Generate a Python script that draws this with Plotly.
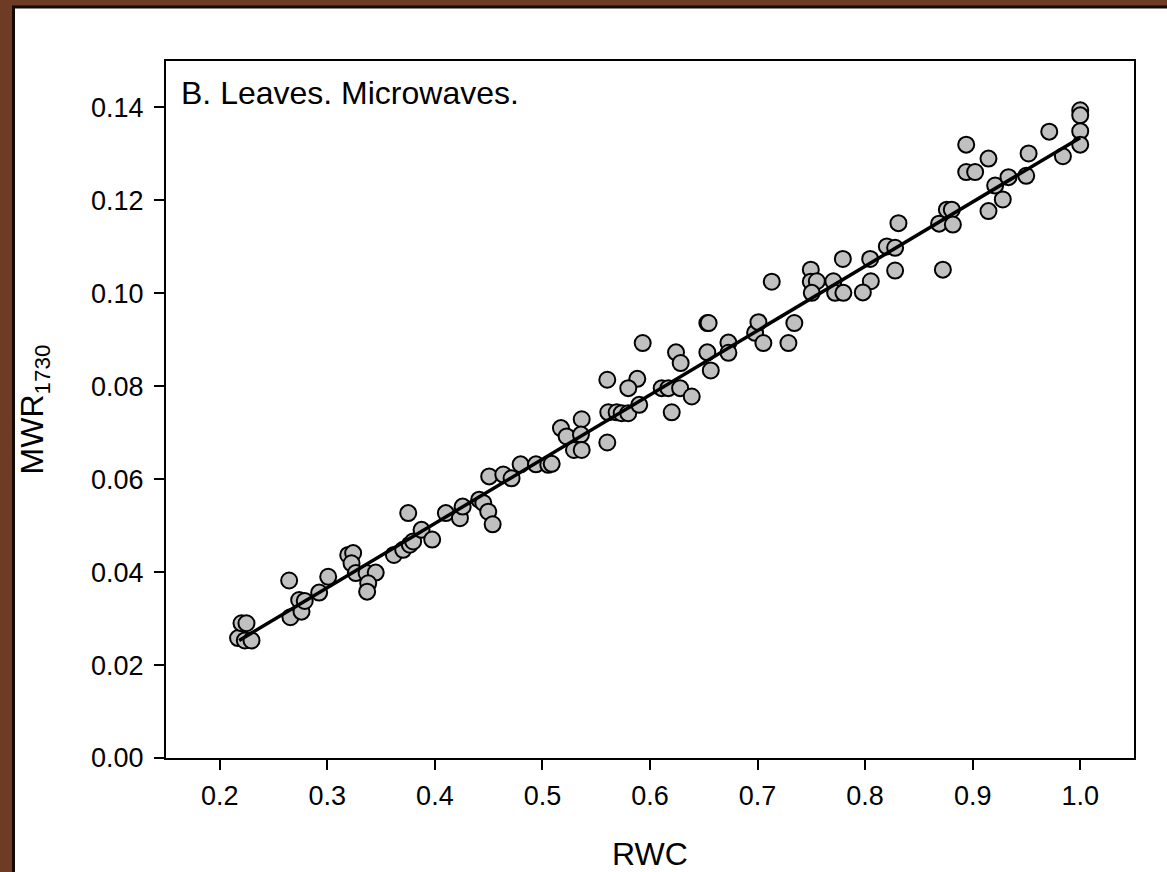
import plotly.graph_objects as go

# Data (RWC vs MWR1730, leaves, microwaves)
rwc = [0.217, 0.2202, 0.2248, 0.2233, 0.2295, 0.2645, 0.2657, 0.2738, 0.2760, 0.2790,
       0.2924, 0.3008, 0.3194, 0.3240, 0.3225, 0.3265, 0.3365, 0.3450, 0.3380, 0.3370,
       0.3619, 0.3705, 0.3767, 0.3798, 0.3876, 0.3975, 0.3752, 0.4102, 0.4233, 0.4258,
       0.4412, 0.4450, 0.4496, 0.4537, 0.4505, 0.4636, 0.4713, 0.4797, 0.4940, 0.5054,
       0.5086, 0.5172, 0.5225, 0.5365, 0.5358, 0.5293, 0.5365, 0.5603, 0.5612, 0.5690,
       0.5737, 0.5798, 0.5900, 0.6202, 0.6109, 0.6171, 0.6280, 0.6388, 0.5603, 0.5882,
       0.5798, 0.5932, 0.6242, 0.6285, 0.6533, 0.6545, 0.6533, 0.6565, 0.6729, 0.6729,
       0.6977, 0.7008, 0.7054, 0.7132, 0.7342, 0.7287, 0.7495, 0.7495, 0.7551, 0.7504,
       0.7705, 0.7721, 0.7798, 0.7793, 0.8047, 0.8053, 0.7979, 0.8279, 0.8202, 0.8279,
       0.8310, 0.8723, 0.8688, 0.8760, 0.8806, 0.8816, 0.8940, 0.8940, 0.9023, 0.9147,
       0.9147, 0.9209, 0.9280, 0.9333, 0.9498, 0.9520, 0.9712, 0.9839, 1.0, 1.0,
       1.0, 1.0]
mwr = [0.0258, 0.0290, 0.0290, 0.0253, 0.0253, 0.0382, 0.0303, 0.0340, 0.0315, 0.0338,
       0.0356, 0.0390, 0.0437, 0.0441, 0.0419, 0.0398, 0.0398, 0.0399, 0.0376, 0.0358,
       0.0437, 0.0448, 0.0459, 0.0466, 0.0491, 0.0470, 0.0527, 0.0527, 0.0516, 0.0541,
       0.0556, 0.0549, 0.0530, 0.0503, 0.0606, 0.0610, 0.0602, 0.0632, 0.0632, 0.0631,
       0.0633, 0.0710, 0.0692, 0.0729, 0.0696, 0.0663, 0.0663, 0.0679, 0.0744, 0.0744,
       0.0742, 0.0742, 0.0760, 0.0744, 0.0796, 0.0796, 0.0796, 0.0778, 0.0814, 0.0816,
       0.0796, 0.0893, 0.0873, 0.0850, 0.0936, 0.0936, 0.0873, 0.0834, 0.0894, 0.0872,
       0.0915, 0.0938, 0.0893, 0.1025, 0.0936, 0.0893, 0.1051, 0.1025, 0.1026, 0.1001,
       0.1026, 0.1001, 0.1001, 0.1074, 0.1074, 0.1026, 0.1002, 0.1049, 0.1101, 0.1098,
       0.1151, 0.1051, 0.1150, 0.1180, 0.1180, 0.1148, 0.1320, 0.1261, 0.1261, 0.1290,
       0.1177, 0.1232, 0.1202, 0.1250, 0.1253, 0.1301, 0.1348, 0.1295, 0.1394, 0.1383,
       0.1349, 0.1320]

# Regression line endpoints
fit_x = [0.218, 1.0]
fit_y = [0.0253, 0.1335]

x_ticks = [0.2, 0.3, 0.4, 0.5, 0.6, 0.7, 0.8, 0.9, 1.0]
x_ticktext = ["0.2", "0.3", "0.4", "0.5", "0.6", "0.7", "0.8", "0.9", "1.0"]
y_ticks = [0.00, 0.02, 0.04, 0.06, 0.08, 0.10, 0.12, 0.14]
y_ticktext = ["0.00", "0.02", "0.04", "0.06", "0.08", "0.10", "0.12", "0.14"]

FONT = "Liberation Sans, Arial, sans-serif"
W, H = 1167, 872
ML, MR, MT, MB = 166, 33, 61, 114
PW, PH = W - ML - MR, H - MT - MB

def px_x(p):
    return (p - ML) / PW

def px_y(p):
    return (H - MB - p) / PH

fig = go.Figure()

fig.add_trace(go.Scatter(
    x=rwc, y=mwr, mode="markers",
    marker=dict(size=16, color="#c0c0c0", line=dict(color="black", width=2)),
    showlegend=False, hoverinfo="x+y"))

fig.add_trace(go.Scatter(
    x=fit_x, y=fit_y, mode="lines",
    line=dict(color="black", width=3.5),
    showlegend=False))

# White panel over brown frame
fig.add_shape(type="rect", xref="paper", yref="paper",
              x0=px_x(15), x1=px_x(W + 5), y0=px_y(H + 5), y1=px_y(8),
              fillcolor="white", line=dict(width=0), layer="below")
fig.add_shape(type="line", xref="paper", yref="paper",
              x0=px_x(13.5), x1=px_x(13.5), y0=px_y(H + 5), y1=px_y(7),
              line=dict(color="#150b06", width=3), layer="below")
fig.add_shape(type="line", xref="paper", yref="paper",
              x0=px_x(12), x1=px_x(W + 5), y0=px_y(7), y1=px_y(7),
              line=dict(color="#150b06", width=3), layer="below")

fig.add_annotation(text="B. Leaves. Microwaves.", xref="paper", yref="paper",
                   x=px_x(179), y=px_y(73), xanchor="left", yanchor="top",
                   showarrow=False, font=dict(family=FONT, size=32, color="black"))

axis_common = dict(showline=True, mirror=True, linecolor="black", linewidth=2,
                   ticks="outside", ticklen=10, tickwidth=2, tickcolor="black",
                   showgrid=False, zeroline=False, automargin=False,
                   tickfont=dict(family=FONT, size=27, color="black"))

fig.update_xaxes(range=[0.15, 1.05], tickvals=x_ticks, ticktext=x_ticktext,
                 ticklabelstandoff=3,
                 title=dict(text="RWC", font=dict(family=FONT, size=32, color="black"),
                            standoff=33),
                 **axis_common)
fig.update_yaxes(range=[0, 0.15], tickvals=y_ticks, ticktext=y_ticktext,
                 ticklabelstandoff=5,
                 title=dict(text="MWR<sub>1730</sub>",
                            font=dict(family=FONT, size=32, color="black"),
                            standoff=38),
                 **axis_common)

fig.update_layout(width=W, height=H, autosize=False,
                  margin=dict(l=ML, r=MR, t=MT, b=MB, pad=0, autoexpand=False),
                  paper_bgcolor="#6e3c24", plot_bgcolor="white",
                  font=dict(family=FONT, color="black"))

fig.write_html("out.html", config={"displayModeBar": False},
               post_script="document.body.style.margin='0';")
